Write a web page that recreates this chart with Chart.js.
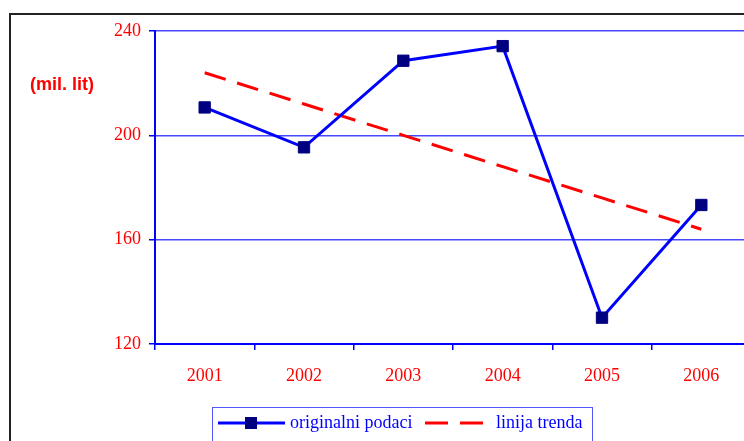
<!DOCTYPE html>
<html>
<head>
<meta charset="utf-8">
<script src="https://cdn.jsdelivr.net/npm/chart.js@4.4.1/dist/chart.umd.min.js"></script>
<style>
  html, body { margin: 0; padding: 0; background: #fff; }
  body { width: 744px; height: 441px; overflow: hidden; position: relative; }
  #frame { position: absolute; left: 9px; top: 13px; width: 800px; height: 500px; border: 2px solid #222; }
  #wrap { position: absolute; left: 0; top: 0; }
</style>
</head>
<body>
<div id="frame"></div>
<div id="wrap"><canvas id="chart" width="760" height="441"></canvas></div>
<script>
const years = ["2001", "2002", "2003", "2004", "2005", "2006"];
const originalValues = [210.7, 195.4, 228.6, 234.2, 130.1, 173.3];
const trendValues = [224, 212, 200, 188, 176, 164];
const yTicks = [120, 160, 200, 240];

const BLUE = "#0000ff";
const NAVY = "#000080";
const RED = "#ff0000";
const GRID = "#4848ff";
const SERIF = "'Liberation Serif', 'Times New Roman', serif";

// legend drawn by hand so it matches the boxed Excel style
const legendPlugin = {
  id: "boxLegend",
  afterDraw(chart) {
    const ctx = chart.ctx;
    const ds = chart.data.datasets;
    const y = 423;
    ctx.save();
    ctx.strokeStyle = "#5555ff";
    ctx.lineWidth = 1;
    ctx.strokeRect(212.5, 407.5, 380, 60);

    // original series
    ctx.strokeStyle = ds[0].borderColor;
    ctx.lineWidth = 3;
    ctx.beginPath();
    ctx.moveTo(218, y);
    ctx.lineTo(285, y);
    ctx.stroke();
    ctx.fillStyle = NAVY;
    ctx.fillRect(245, y - 6, 12, 12);

    // trend
    ctx.strokeStyle = ds[1].borderColor;
    ctx.setLineDash([23, 12]);
    ctx.beginPath();
    ctx.moveTo(425, y);
    ctx.lineTo(483, y);
    ctx.stroke();
    ctx.setLineDash([]);

    ctx.fillStyle = BLUE;
    ctx.font = "18px " + SERIF;
    ctx.textBaseline = "middle";
    ctx.textAlign = "left";
    ctx.fillText(ds[0].label, 290, y);
    ctx.fillText(ds[1].label, 496, y);

    // unit label
    ctx.fillStyle = RED;
    ctx.font = "bold 18px 'Liberation Sans', Arial, sans-serif";
    ctx.fillText("(mil. lit)", 30, 85);
    ctx.restore();
  }
};

new Chart(document.getElementById("chart"), {
  type: "line",
  data: {
    labels: years,
    datasets: [
      {
        label: "originalni podaci",
        data: originalValues,
        borderColor: BLUE,
        borderWidth: 3,
        tension: 0,
        pointStyle: "rect",
        pointRadius: 8,
        pointBackgroundColor: NAVY,
        pointBorderColor: NAVY,
        pointBorderWidth: 1,
        fill: false
      },
      {
        label: "linija trenda",
        data: trendValues,
        borderColor: RED,
        borderWidth: 3,
        borderDash: [22, 12],
        pointRadius: 0,
        tension: 0,
        fill: false
      }
    ]
  },
  options: {
    responsive: false,
    animation: false,
    layout: { padding: { left: 0, top: 31, right: 5, bottom: 0 } },
    plugins: {
      legend: { display: false },
      tooltip: { enabled: false }
    },
    scales: {
      x: {
        offset: true,
        afterFit: (scale) => { scale.height = 97; },
        grid: {
          offset: true,
          drawOnChartArea: false,
          drawTicks: true,
          tickLength: 6,
          color: () => BLUE,
          tickColor: () => BLUE,
          lineWidth: 1.5
        },
        border: { display: true, color: BLUE, width: 2 },
        ticks: {
          color: RED,
          padding: 15,
          font: { family: SERIF, size: 18 }
        }
      },
      y: {
        min: 120,
        max: 240,
        afterFit: (scale) => { scale.width = 155; },
        afterBuildTicks: (scale) => { scale.ticks = yTicks.map((v) => ({ value: v })); },
        grid: {
          color: () => GRID,
          tickColor: () => BLUE,
          lineWidth: 1.5,
          tickLength: 6
        },
        border: { display: true, color: BLUE, width: 2 },
        ticks: {
          color: RED,
          padding: 8,
          font: { family: SERIF, size: 18 }
        }
      }
    }
  },
  plugins: [legendPlugin]
});
</script>
</body>
</html>
